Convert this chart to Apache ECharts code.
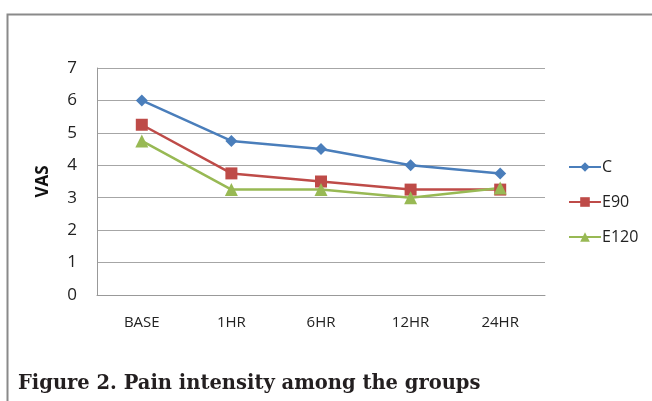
<!DOCTYPE html>
<html>
<head>
<meta charset="utf-8">
<script src="https://cdn.jsdelivr.net/npm/echarts@6/dist/echarts.min.js"></script>
<style>
  html, body { margin: 0; padding: 0; background: #fff; }
  #chart { width: 652px; height: 401px; }
</style>
</head>
<body>
<div id="chart"></div>
<script>
const categories = ['BASE', '1HR', '6HR', '12HR', '24HR'];
const seriesNames = ['C', 'E90', 'E120'];
const valuesC = [6, 4.75, 4.5, 4, 3.75];
const valuesE90 = [5.25, 3.75, 3.5, 3.25, 3.25];
const valuesE120 = [4.75, 3.25, 3.25, 3, 3.3];
const yTicks = [0, 1, 2, 3, 4, 5, 6, 7];

const chart = echarts.init(document.getElementById('chart'));

const font = 'Open Sans, Liberation Sans, sans-serif';

function lineSeries(name, data, color, symbol, size) {
  return {
    name: name,
    type: 'line',
    data: data,
    symbol: symbol,
    symbolSize: size,
    showAllSymbol: true,
    lineStyle: { color: color, width: 2.5 },
    itemStyle: { color: color },
    emphasis: { disabled: true },
    z: 3,
  };
}

const option = {
  animation: false,
  title: {
    text: 'Figure 2. Pain intensity among the groups',
    left: 13,
    top: 369,
    textStyle: {
      fontFamily: 'DejaVu Serif, serif',
      fontWeight: 'bold',
      fontSize: 19.5,
      color: '#231f20',
    },
  },
  legend: {
    orient: 'vertical',
    left: 563,
    top: 154,
    itemWidth: 32,
    itemHeight: 12,
    itemGap: 19,
    data: seriesNames,
    textStyle: { fontFamily: font, fontSize: 16, color: '#222', padding: [0, 0, 0, -4] },
  },
  grid: { left: 97, right: 107, top: 68, bottom: 106, containLabel: false },
  xAxis: {
    type: 'category',
    data: categories,
    boundaryGap: true,
    axisLine: { show: true, lineStyle: { color: '#999', width: 1 } },
    axisTick: { show: false },
    axisLabel: { fontFamily: font, fontSize: 15, color: '#222', margin: 20 },
  },
  yAxis: {
    type: 'value',
    min: yTicks[0],
    max: yTicks[yTicks.length - 1],
    interval: 1,
    name: 'VAS',
    nameLocation: 'middle',
    nameRotate: 90,
    nameGap: 45,
    nameTextStyle: { fontFamily: font, fontSize: 17, fontWeight: 'bold', color: '#111' },
    axisLine: { show: true, lineStyle: { color: '#999', width: 1 } },
    axisTick: { show: false },
    splitLine: { lineStyle: { color: '#a6a6a6', width: 1 } },
    axisLabel: { fontFamily: font, fontSize: 17, color: '#222', margin: 20 },
  },
  series: [
    lineSeries(seriesNames[0], valuesC, '#4a7ebb', 'diamond', 12),
    lineSeries(seriesNames[1], valuesE90, '#be4b48', 'rect', 12),
    lineSeries(seriesNames[2], valuesE120, '#98b954', 'triangle', 13),
  ],
  graphic: [
    {
      type: 'polyline',
      shape: { points: [[7.5, 401], [7.5, 14.5], [652, 14.5]] },
      style: { stroke: '#8a8a8a', lineWidth: 2, fill: null },
    },
  ],
};

chart.setOption(option);
</script>
</body>
</html>
